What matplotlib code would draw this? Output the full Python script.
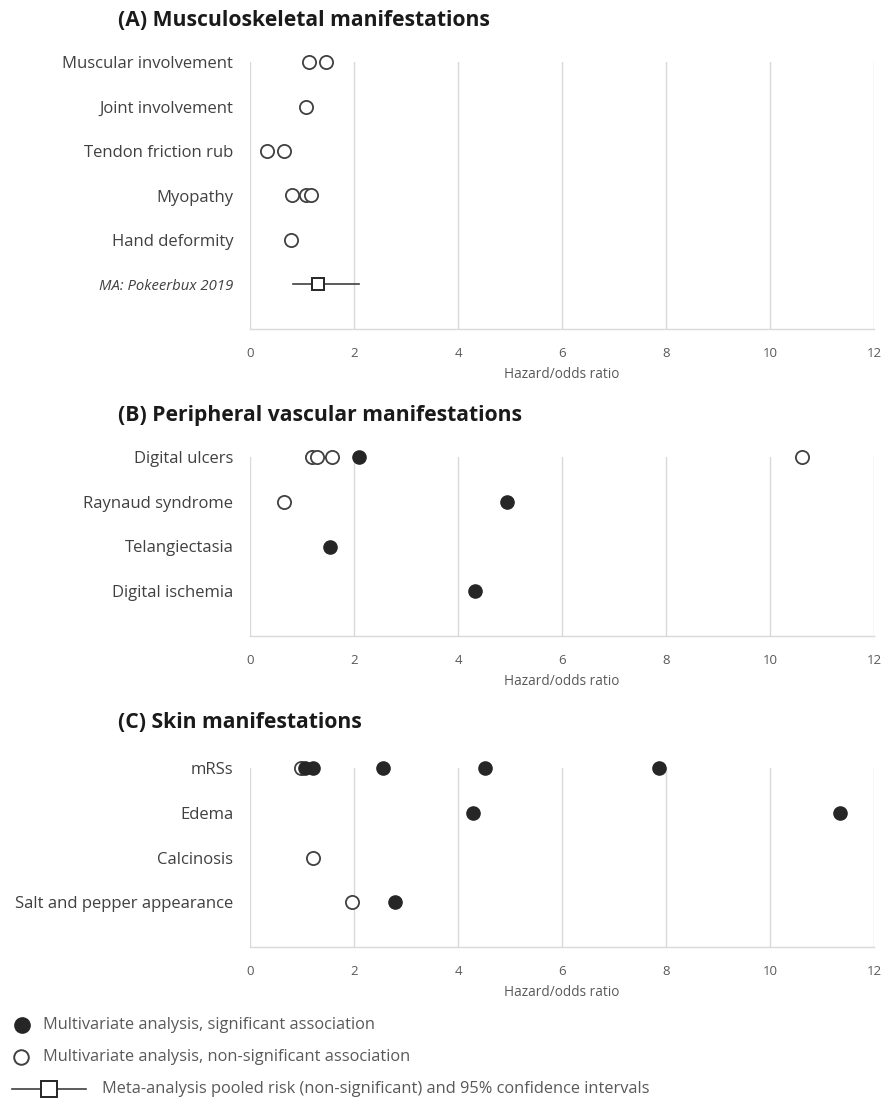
import matplotlib
matplotlib.use("Agg")
import matplotlib.pyplot as plt
from matplotlib.lines import Line2D

plt.rcParams['font.family'] = ['Open Sans', 'DejaVu Sans']

# ---------------- data ----------------
musc_labels = ["Muscular involvement", "Joint involvement", "Tendon friction rub",
               "Myopathy", "Hand deformity"]
musc_open = [[1.14, 1.46], [1.07], [0.33, 0.65], [0.81, 1.08, 1.17], [0.79]]
musc_filled = [[], [], [], [], []]
ma_label = "MA: Pokeerbux 2019"
ma_point = 1.31
ma_lo = 0.82
ma_hi = 2.10

vasc_labels = ["Digital ulcers", "Raynaud syndrome", "Telangiectasia", "Digital ischemia"]
vasc_open = [[1.19, 1.28, 1.58, 10.61], [0.66], [], []]
vasc_filled = [[2.09], [4.94], [1.53], [4.33]]

skin_labels = ["mRSs", "Edema", "Calcinosis", "Salt and pepper appearance"]
skin_open = [[0.98], [], [1.21], [1.96]]
skin_filled = [[1.05, 1.22, 2.56, 4.51, 7.87], [4.28, 11.35], [], [2.79]]

titles = ["(A) Musculoskeletal manifestations",
          "(B) Peripheral vascular manifestations",
          "(C) Skin manifestations"]
xticks = [0, 2, 4, 6, 8, 10, 12]
xlabel = "Hazard/odds ratio"
legend_texts = ["Multivariate analysis, significant association",
                "Multivariate analysis, non-significant association",
                "Meta-analysis pooled risk (non-significant) and 95% confidence intervals"]

# ---------------- style ----------------
W, H = 882, 1104
DARK = "#262626"
EDGE = "#404040"
GRID = "#d9d9d9"
TXT = "#404040"
TICK = "#595959"
MS = 9.5

fig = plt.figure(figsize=(W / 100, H / 100), dpi=100)


def fx(px):
    return px / W


def fy(py):
    return 1 - py / H


def make_axes(top, bottom, nrows):
    ax = fig.add_axes([fx(250), fy(bottom), fx(874) - fx(250), fy(top) - fy(bottom)])
    ax.set_xlim(0, 12)
    ax.set_ylim(0, nrows)
    for s in ["top", "right", "left"]:
        ax.spines[s].set_visible(False)
    ax.spines["bottom"].set_color(GRID)
    ax.spines["bottom"].set_linewidth(1.0)
    ax.set_xticks(xticks)
    ax.xaxis.grid(True, color=GRID, linewidth=1.0)
    ax.set_axisbelow(True)
    ax.tick_params(axis="x", length=0, pad=13, labelsize=9.5, labelcolor=TICK)
    ax.tick_params(axis="y", length=0, pad=12, labelsize=12, labelcolor=TXT)
    ax.set_xlabel(xlabel, fontsize=9.8, color=TICK, labelpad=5)
    return ax


def draw_rows(ax, labels, opens, filleds, nrows):
    ys = [nrows - i for i in range(len(labels))]
    for y, ov, fv in zip(ys, opens, filleds):
        if ov:
            ax.plot(ov, [y] * len(ov), "o", ms=MS, mfc="white", mec=EDGE, mew=1.3,
                    ls="none", clip_on=False, zorder=3)
        if fv:
            ax.plot(fv, [y] * len(fv), "o", ms=MS, mfc=DARK, mec=DARK, mew=1.0,
                    ls="none", clip_on=False, zorder=4)
    return ys


# Panel A
axA = make_axes(62, 329, 6)
ysA = draw_rows(axA, musc_labels, musc_open, musc_filled, 6)
axA.plot([ma_lo, ma_hi], [1, 1], color=EDGE, lw=1.2, zorder=3)
axA.plot([ma_point], [1], "s", ms=9, mfc="white", mec=DARK, mew=1.4, zorder=4)
axA.set_yticks(ysA + [1])
axA.set_yticklabels(musc_labels + [ma_label])
for lab in axA.get_yticklabels():
    if lab.get_text() == ma_label:
        lab.set_fontstyle("italic")
        lab.set_fontsize(10.7)

# Panel B
axB = make_axes(457, 636, 4)
ysB = draw_rows(axB, vasc_labels, vasc_open, vasc_filled, 4)
axB.set_yticks(ysB)
axB.set_yticklabels(vasc_labels)

# Panel C
axC = make_axes(768, 947, 4)
ysC = draw_rows(axC, skin_labels, skin_open, skin_filled, 4)
axC.set_yticks(ysC)
axC.set_yticklabels(skin_labels)

# titles
for t, py in zip(titles, [21, 415, 722]):
    fig.text(fx(118), fy(py), t, fontsize=15.2, fontweight="bold", color="#1a1a1a",
             ha="left", va="center")

# legend
LFS = 11.8
fig.add_artist(Line2D([fx(22)], [fy(1025)], marker="o", ms=11, mfc=DARK, mec=DARK,
                      transform=fig.transFigure))
fig.text(fx(43), fy(1025), legend_texts[0], fontsize=LFS, color=TICK, va="center")
fig.add_artist(Line2D([fx(21)], [fy(1057)], marker="o", ms=10.5, mfc="white", mec=EDGE, mew=1.4,
                      transform=fig.transFigure))
fig.text(fx(43), fy(1057), legend_texts[1], fontsize=LFS, color=TICK, va="center")
fig.add_artist(Line2D([fx(12), fx(86)], [fy(1089), fy(1089)], color=EDGE, lw=1.2,
                      transform=fig.transFigure))
fig.add_artist(Line2D([fx(49)], [fy(1089)], marker="s", ms=11, mfc="white", mec=DARK, mew=1.4,
                      transform=fig.transFigure))
fig.text(fx(102), fy(1089), legend_texts[2], fontsize=LFS, color=TICK, va="center")

fig.savefig("out.png", dpi=100, facecolor="white")
